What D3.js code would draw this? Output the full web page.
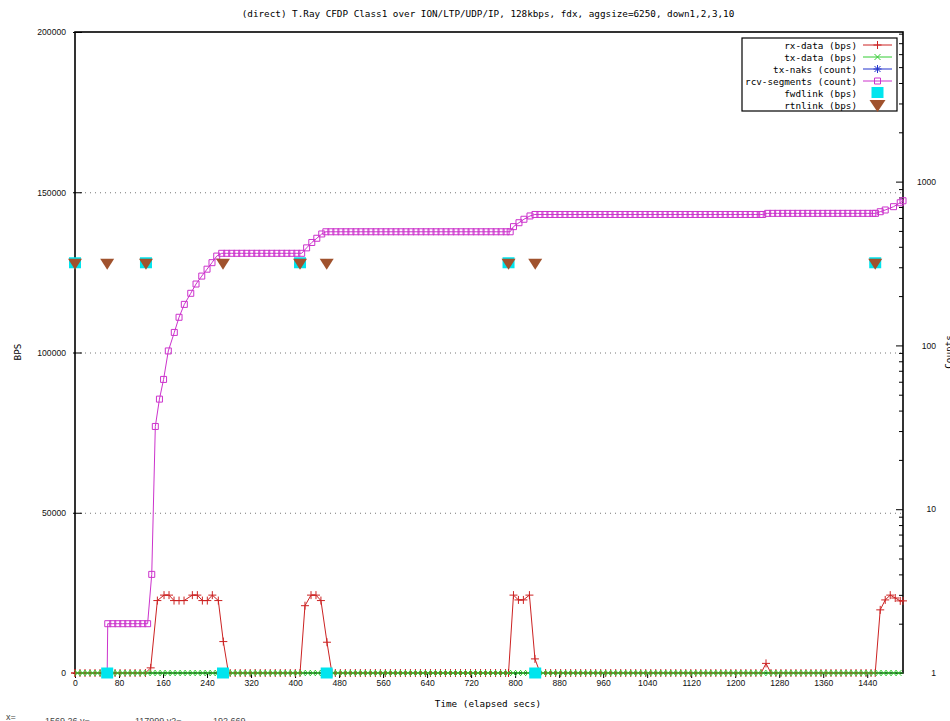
<!DOCTYPE html>
<html>
<head>
<meta charset="utf-8">
<script src="https://cdn.jsdelivr.net/npm/d3@7"></script>
<style>
  body { margin: 0; background: #fff; }
  svg { display: block; }
  .mono { font-family: "DejaVu Sans Mono", monospace; font-size: 9.3px; fill: #000; }
  .tick text { font-family: "Liberation Sans", Arial, sans-serif; font-size: 8.6px; fill: #111; }
  .grid { stroke: #777; stroke-dasharray: 1,4; }
</style>
</head>
<body>
<div id="wrapper"></div>
<script>
// ---- data ----
const titleText = "(direct) T.Ray CFDP Class1 over ION/LTP/UDP/IP, 128kbps, fdx, aggsize=6250, down1,2,3,10"
const xTicks = [0, 80, 160, 240, 320, 400, 480, 560, 640, 720, 800, 880, 960, 1040, 1120, 1200, 1280, 1360, 1440]
const yTicks = [0, 50000, 100000, 150000, 200000]
const y2Ticks = [1, 10, 100, 1000]
const y2MinorTicks = [2, 3, 4, 5, 6, 7, 8, 9, 20, 30, 40, 50, 60, 70, 80, 90,
    200, 300, 400, 500, 600, 700, 800, 900, 2000, 3000, 4000, 5000, 6000, 7000, 8000]
const gridValues = [50000, 100000, 150000]

const sampleStep = 9.1 // seconds between samples (marker spacing)

// rx-data (bps): [time, value]
const rxData = [
    [0, 0], [128, 0], [137.6, 1600], [149.7, 22600], [161.8, 24300], [170.9, 24300], [180, 22600],
    [189.1, 22600], [198.2, 22600], [213.3, 24300], [222.4, 24300], [231.5, 22600], [240.5, 22600],
    [249.6, 24300], [260.5, 22600], [269.6, 9800], [279, 0],
    [409, 0], [418, 21000], [429, 24300], [438, 24300], [447, 22600], [458, 9600], [467, 0],
    [788, 0], [797, 24300], [806, 22800], [815, 22800], [826, 24300], [836, 4400], [845.5, 0],
    [1247, 0], [1256, 3000], [1265, 0],
    [1454.5, 0], [1463.6, 19700], [1472.7, 22800], [1481.8, 24300], [1490.9, 23400], [1500, 22500], [1505, 22500]
]
const rxBurstSpans = [[128, 279], [409, 467], [788, 845.5], [1247, 1265], [1454.5, 1505]]

// rcv-segments (count): flat runs [from, to, count] and changing points [time, count]
const rcvRuns = [[59.5, 132, 2], [266.7, 412, 365], [456, 791, 494], [836, 1250, 630], [1259, 1455, 640]]
const rcvChanges = [
    [58.5, 1], [139.5, 4], [146, 32], [153.5, 47], [161, 62], [169.6, 92.5], [180.5, 120], [189.1, 148.5],
    [198.7, 178], [210.4, 208], [220, 237], [230.4, 265], [240, 292], [249, 320], [257.6, 351],
    [421, 394], [430.4, 425], [439.5, 451], [448.5, 479],
    [797, 531], [807, 561], [816, 589], [827, 617],
    [1463.6, 655], [1472.7, 671], [1487.8, 703], [1500, 743], [1505, 764]
]

// link events (bps)
const fwdlink = [[0, 128000], [58.5, 0], [129, 128000], [269, 0], [409, 128000], [457.5, 0],
    [788, 128000], [836.5, 0], [1454.5, 128000]]
const rtnlink = [[0, 128000], [58.5, 128000], [129, 128000], [269, 128000], [409, 128000],
    [457.5, 128000], [788, 128000], [836.5, 128000], [1454.5, 128000]]

const colors = {
    rx: "#cc2222", tx: "#33cc33", naks: "#2233cc", rcv: "#cc33cc", fwd: "#00e5ee", rtn: "#a0522d"
}

// ---- layout ----
const width = 950
const height = 721
const plot = { left: 75, right: 903, top: 32, bottom: 673 }

const svg = d3.select("#wrapper").append("svg")
    .attr("width", width)
    .attr("height", height)

const x = d3.scaleLinear().domain([0, 1505]).range([plot.left, plot.right])
const y = d3.scaleLinear().domain([0, 200000]).range([plot.bottom, plot.top])
const y2 = d3.scaleLog().domain([1, 8192]).range([plot.bottom, plot.top])

// marker shapes
const plusPath = "M-4,0H4M0,-4V4"
const crossPath = "M-3,-3L3,3M-3,3L3,-3"
const starPath = plusPath + crossPath
const squarePath = "M-3,-3H3V3H-3Z"
const trianglePath = "M-7,-4L7,-4L0,7Z"

// title
svg.append("text")
    .attr("class", "mono")
    .attr("x", 488)
    .attr("y", 17)
    .attr("text-anchor", "middle")
    .text(titleText)

// grid
svg.append("g").selectAll("line")
    .data(gridValues)
    .join("line")
    .attr("class", "grid")
    .attr("x1", plot.left)
    .attr("x2", plot.right)
    .attr("y1", d => y(d) + 0.5)
    .attr("y2", d => y(d) + 0.5)

// axes
const xAxis = svg.append("g")
    .attr("transform", `translate(0, ${plot.bottom})`)
    .call(d3.axisBottom(x).tickValues(xTicks).tickSizeInner(5).tickSizeOuter(0).tickPadding(2).tickFormat(d3.format("d")))
xAxis.select(".domain").remove()

const yAxis = svg.append("g")
    .attr("transform", `translate(${plot.left}, 0)`)
    .call(d3.axisLeft(y).tickValues(yTicks).tickSizeInner(-7).tickSizeOuter(0).tickPadding(9).tickFormat(d3.format("d")))
yAxis.select(".domain").remove()
yAxis.selectAll(".tick line").attr("x1", -2)

const y2Axis = svg.append("g")
    .attr("transform", `translate(${plot.right}, 0)`)
    .call(d3.axisRight(y2).tickValues(y2Ticks).tickSizeInner(-7).tickSizeOuter(0).tickFormat(d3.format("d")))
y2Axis.select(".domain").remove()
y2Axis.selectAll(".tick text").attr("x", 33).attr("text-anchor", "end")

const y2Minor = svg.append("g")
    .attr("transform", `translate(${plot.right}, 0)`)
    .call(d3.axisRight(y2).tickValues(y2MinorTicks).tickSizeInner(-4).tickSizeOuter(0).tickFormat(""))
y2Minor.select(".domain").remove()

svg.selectAll(".tick line").attr("stroke", "#000")

// border
svg.append("rect")
    .attr("x", plot.left)
    .attr("y", plot.top)
    .attr("width", plot.right - plot.left)
    .attr("height", plot.bottom - plot.top)
    .attr("fill", "none")
    .attr("stroke", "#000")
    .attr("stroke-width", 1.6)

// axis labels
svg.append("text")
    .attr("class", "mono")
    .attr("x", 488)
    .attr("y", 707)
    .attr("text-anchor", "middle")
    .text("Time (elapsed secs)")

svg.append("text")
    .attr("class", "mono")
    .attr("transform", "translate(21, 352) rotate(-90)")
    .attr("text-anchor", "middle")
    .text("BPS")

svg.append("text")
    .attr("class", "mono")
    .attr("transform", "translate(952, 352) rotate(-90)")
    .attr("text-anchor", "middle")
    .text("Counts")

// ---- series ----
const sampleTimes = d3.range(0, 1505, sampleStep)
const isInBurst = t => rxBurstSpans.some(([a, b]) => t >= a - 2 && t <= b + 2)
const rxBaseline = sampleTimes.filter(t => !isInBurst(t)).map(t => [t, 0])

const line = d3.line()

// rx-data line
svg.append("path")
    .attr("d", line(rxData.map(d => [x(d[0]), y(d[1])])))
    .attr("fill", "none")
    .attr("stroke", colors.rx)
    .attr("stroke-width", 1)

svg.append("g").selectAll("path")
    .data(rxData.concat(rxBaseline))
    .join("path")
    .attr("transform", d => `translate(${x(d[0])}, ${y(d[1])})`)
    .attr("d", plusPath)
    .attr("stroke", colors.rx)
    .attr("stroke-width", 1)

// tx-data: zero along the baseline
const txSamples = sampleTimes.map(t => [t + sampleStep / 2, 0]).filter(d => d[0] <= 1505)
svg.append("path")
    .attr("d", line([[x(0), y(0)], [x(1505), y(0)]]))
    .attr("stroke", colors.tx)
    .attr("stroke-width", 1)
svg.append("g").selectAll("path")
    .data(txSamples)
    .join("path")
    .attr("transform", d => `translate(${x(d[0])}, ${y(d[1])})`)
    .attr("d", crossPath)
    .attr("stroke", colors.tx)
    .attr("stroke-width", 1)

// rcv-segments
const rcvRunPoints = rcvRuns.flatMap(([a, b, c]) => {
    const ts = d3.range(a, b, sampleStep)
    ts.push(b)
    return ts.map(t => [t, c])
})
const rcvPoints = rcvChanges.concat(rcvRunPoints).sort((a, b) => a[0] - b[0])

svg.append("path")
    .attr("d", line(rcvPoints.map(d => [x(d[0]), y2(d[1])])))
    .attr("fill", "none")
    .attr("stroke", colors.rcv)
    .attr("stroke-width", 1)

svg.append("g").selectAll("path")
    .data(rcvPoints.filter(d => d[1] > 1))
    .join("path")
    .attr("transform", d => `translate(${x(d[0])}, ${y2(d[1])})`)
    .attr("d", squarePath)
    .attr("fill", "none")
    .attr("stroke", colors.rcv)
    .attr("stroke-width", 1)

// fwdlink squares
svg.append("g").selectAll("rect")
    .data(fwdlink)
    .join("rect")
    .attr("x", d => x(d[0]) - 6)
    .attr("y", d => y(d[1]) - 5.5)
    .attr("width", 12)
    .attr("height", 11)
    .attr("fill", colors.fwd)

// rtnlink triangles
svg.append("g").selectAll("path")
    .data(rtnlink)
    .join("path")
    .attr("transform", d => `translate(${x(d[0])}, ${y(d[1])})`)
    .attr("d", trianglePath)
    .attr("fill", colors.rtn)

// ---- legend ----
const legendItems = [
    { label: "rx-data (bps)", color: colors.rx, marker: plusPath, line: true },
    { label: "tx-data (bps)", color: colors.tx, marker: crossPath, line: true },
    { label: "tx-naks (count)", color: colors.naks, marker: starPath, line: true },
    { label: "rcv-segments (count)", color: colors.rcv, marker: squarePath, line: true },
    { label: "fwdlink (bps)", color: colors.fwd, marker: "M-6,-6H6V5H-6Z", fill: true },
    { label: "rtnlink (bps)", color: colors.rtn, marker: "M-8,-5L8,-5L0,7Z", fill: true }
]

const legend = svg.append("g")
legend.append("rect")
    .attr("x", 742)
    .attr("y", 38)
    .attr("width", 155)
    .attr("height", 73)
    .attr("fill", "#fff")
    .attr("stroke", "#000")
    .attr("stroke-width", 1.2)

const rows = legend.selectAll(".row")
    .data(legendItems)
    .join("g")
    .attr("class", "row")
    .attr("transform", (d, i) => `translate(0, ${45 + i * 12})`)

rows.append("text")
    .attr("class", "mono")
    .attr("x", 857)
    .attr("y", 3.5)
    .attr("text-anchor", "end")
    .text(d => d.label)

rows.filter(d => d.line).append("line")
    .attr("x1", 863)
    .attr("x2", 892)
    .attr("stroke", d => d.color)
    .attr("stroke-width", 1)

rows.append("path")
    .attr("transform", "translate(877.5, 0)")
    .attr("d", d => d.marker)
    .attr("fill", d => d.fill ? d.color : "none")
    .attr("stroke", d => d.fill ? "none" : d.color)
    .attr("stroke-width", 1)

// mouse readout at the bottom edge (cut off in the original)
const readout = svg.append("g")
    .style("font-family", "'Liberation Sans', Arial, sans-serif")
    .style("font-size", "9px")
    .style("fill", "#444")
readout.append("text").attr("x", 6).attr("y", 720).text("x=")
readout.append("text").attr("x", 45).attr("y", 724).text("1569.26 y=")
readout.append("text").attr("x", 135).attr("y", 724).text("117999 y2=")
readout.append("text").attr("x", 213).attr("y", 724).text("192.669")
</script>
</body>
</html>
